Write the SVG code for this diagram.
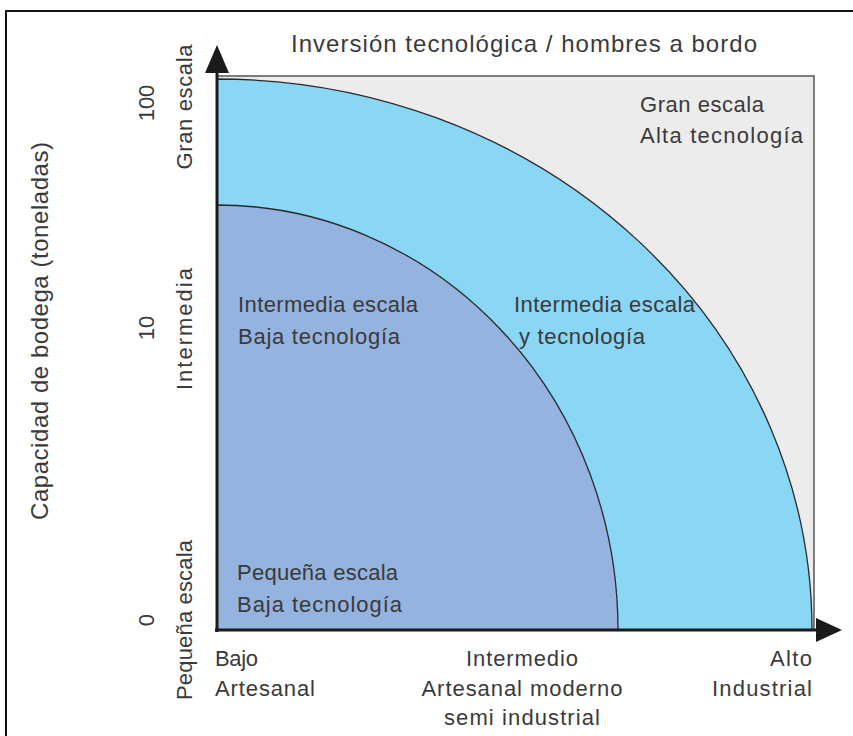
<svg xmlns="http://www.w3.org/2000/svg" width="853" height="736" viewBox="0 0 853 736">
<defs>
<style>
text{font-family:"Liberation Sans",Arial,sans-serif;font-size:22px;fill:#3a3a3a}
.big{font-size:24px}
.axis{stroke:#1a1a1a;stroke-width:3;fill:none}
.arrow{fill:#1a1a1a}
.curve{stroke:#2a2a2a;stroke-width:1.3}
</style>
</defs>
<rect width="853" height="736" fill="#ffffff"/>
<rect x="6" y="11" width="860" height="740" fill="none" stroke="#111" stroke-width="2"/>
<g id="zone-gran-escala">
<rect x="217" y="76" width="597" height="554" fill="#ececec" stroke="#555" stroke-width="1.5"/>
<text x="640" y="112" textLength="124" lengthAdjust="spacing">Gran escala</text>
<text x="640" y="143" textLength="163" lengthAdjust="spacing">Alta tecnología</text>
</g>
<g id="zone-intermedia">
<path class="curve" d="M217,630 L217,79 A595,551 0 0 1 812,630 Z" fill="#8ad6f5"/>
<text x="514" y="312" textLength="181" lengthAdjust="spacing">Intermedia escala</text>
<text x="519" y="344" textLength="126" lengthAdjust="spacing">y tecnología</text>
</g>
<g id="zone-pequena">
<path class="curve" d="M217,630 L217,205 A401,425 0 0 1 618,630 Z" fill="#94b3de"/>
<text x="238" y="312" textLength="180" lengthAdjust="spacing">Intermedia escala</text>
<text x="238" y="344" textLength="162" lengthAdjust="spacing">Baja tecnología</text>
<text x="237" y="580" textLength="161" lengthAdjust="spacing">Pequeña escala</text>
<text x="237" y="612" textLength="165" lengthAdjust="spacing">Baja tecnología</text>
</g>
<g id="connectors">
<line class="axis" x1="217" y1="632" x2="217" y2="70"/>
<polygon class="arrow" points="217,45 205,73 229,73"/>
<line class="axis" x1="215" y1="630" x2="820" y2="630"/>
<polygon class="arrow" points="842,630 816,618 816,642"/>
</g>
<g id="title">
<text class="big" x="524" y="52" text-anchor="middle" textLength="466" lengthAdjust="spacing">Inversión tecnológica / hombres a bordo</text>
</g>
<g id="x-labels">
<text x="215" y="666" textLength="43" lengthAdjust="spacing">Bajo</text>
<text x="215" y="696" textLength="100" lengthAdjust="spacing">Artesanal</text>
<text x="522" y="666" text-anchor="middle" textLength="112" lengthAdjust="spacing">Intermedio</text>
<text x="522" y="696" text-anchor="middle" textLength="201" lengthAdjust="spacing">Artesanal moderno</text>
<text x="522" y="725" text-anchor="middle" textLength="156" lengthAdjust="spacing">semi industrial</text>
<text x="812" y="666" text-anchor="end" textLength="42" lengthAdjust="spacing">Alto</text>
<text x="812" y="696" text-anchor="end" textLength="100" lengthAdjust="spacing">Industrial</text>
</g>
<g id="y-labels">
<text class="big" transform="translate(48,331) rotate(-90)" text-anchor="middle" textLength="378" lengthAdjust="spacing">Capacidad de bodega (toneladas)</text>
<text transform="translate(154,103) rotate(-90)" text-anchor="middle">100</text>
<text transform="translate(192,107) rotate(-90)" text-anchor="middle" textLength="125" lengthAdjust="spacing">Gran escala</text>
<text transform="translate(154,328) rotate(-90)" text-anchor="middle">10</text>
<text transform="translate(192,329) rotate(-90)" text-anchor="middle" textLength="122" lengthAdjust="spacing">Intermedia</text>
<text transform="translate(154,620) rotate(-90)" text-anchor="middle">0</text>
<text transform="translate(192,620) rotate(-90)" text-anchor="middle" textLength="160" lengthAdjust="spacing">Pequeña escala</text>
</g>
</svg>
